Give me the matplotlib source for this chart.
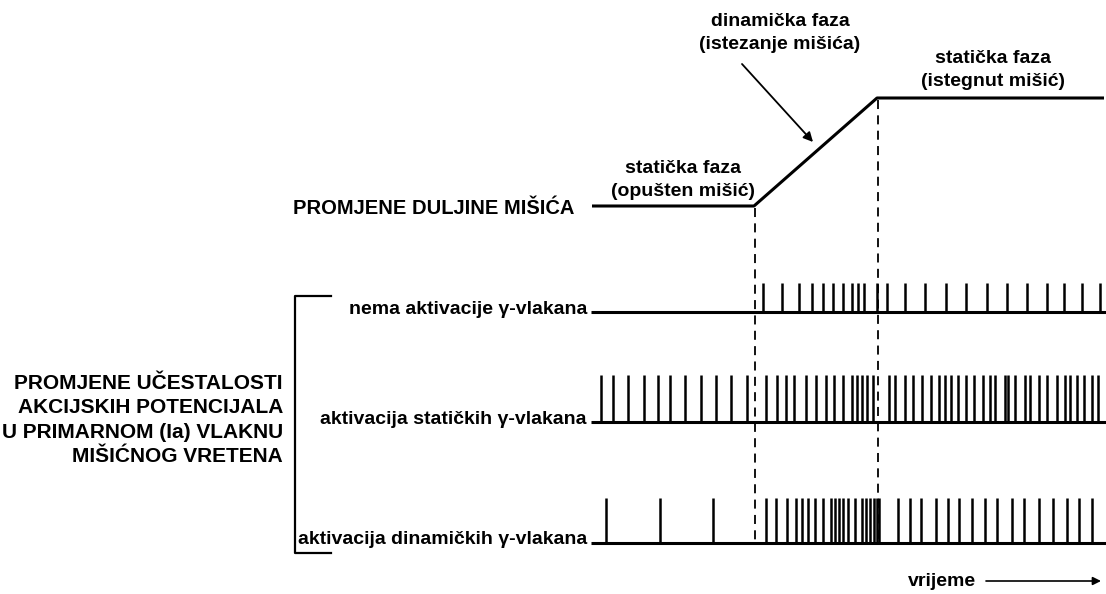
import matplotlib.pyplot as plt

plt.rcParams['font.family'] = ['Liberation Sans', 'DejaVu Sans']

# Duljina misica (vrijeme, razina)
duljina_t = [592, 754, 877, 1104]
duljina_y = [206, 206, 98, 98]
pocetak_istezanja = 755
kraj_istezanja = 878

# Trenuci akcijskih potencijala
bez_gama = [763, 782, 799, 812, 823, 833, 843, 852, 858, 864, 877, 887,
            905, 925, 946, 966, 987, 1007, 1027, 1047, 1064, 1082, 1100]
staticki_gama = [601, 613, 628, 644, 658, 670, 685, 701, 716, 731, 747,
                 766, 777, 786, 794, 806, 816, 826, 834, 843, 852, 857, 862,
                 867, 873, 889, 895, 905, 913, 922, 931, 939, 945, 951, 958,
                 966, 974, 983, 990, 995, 1005, 1008, 1015, 1025, 1030, 1039,
                 1047, 1057, 1065, 1070, 1077, 1084, 1092, 1098]
dinamicki_gama = [606, 660, 713, 766, 776, 787, 796, 802, 808, 815, 823,
                  831, 835, 839, 843, 848, 855, 862, 866, 870, 874, 877, 879,
                  898, 910, 921, 936, 948, 959, 972, 985, 997, 1012, 1024,
                  1039, 1053, 1067, 1079, 1092]

oznake_redova = ["nema aktivacije γ-vlakana",
                 "aktivacija statičkih γ-vlakana",
                 "aktivacija dinamičkih γ-vlakana"]
nizovi = [bez_gama, staticki_gama, dinamicki_gama]
osnovice = [312, 422, 543]
vrhovi = [283, 375, 498]

fig = plt.figure(figsize=(11.06, 5.94), dpi=100)
ax = fig.add_axes([0, 0, 1, 1])
ax.set_xlim(0, 1106)
ax.set_ylim(594, 0)
ax.axis('off')

fs = 14
kw = dict(fontsize=fs, fontweight='bold', color='black')

# Promjena duljine misica
ax.plot(duljina_t, duljina_y, color='black', lw=2.2, solid_capstyle='butt')
ax.text(574, 208, "PROMJENE DULJINE MIŠIĆA", ha='right', va='center',
        fontsize=14.5, fontweight='bold')
ax.text(683, 180, "statička faza\n(opušten mišić)", ha='center', va='center',
        linespacing=1.4, **kw)
ax.text(780, 33, "dinamička faza\n(istezanje mišića)", ha='center', va='center',
        linespacing=1.4, **kw)
ax.text(993, 70, "statička faza\n(istegnut mišić)", ha='center', va='center',
        linespacing=1.4, **kw)
ax.annotate("", xy=(813, 142), xytext=(742, 64),
            arrowprops=dict(arrowstyle='-|>', color='black', lw=1.3,
                            mutation_scale=14, shrinkA=0, shrinkB=0))

# Isprekidane linije
ax.plot([pocetak_istezanja] * 2, [208, 545], color='black', lw=1.3,
        ls=(0, (5, 3.5)))
ax.plot([kraj_istezanja] * 2, [100, 545], color='black', lw=1.3,
        ls=(0, (5, 3.5)))

# Nizovi akcijskih potencijala
for oznaka, niz, y0, y1 in zip(oznake_redova, nizovi, osnovice, vrhovi):
    ax.plot([591, 1106], [y0, y0], color='black', lw=2.2,
            solid_capstyle='butt')
    ax.vlines(niz, y1, y0, color='black', lw=1.8)
    ax.text(587, y0 - 3, oznaka, ha='right', va='center', **kw)

# Uglata zagrada
ax.plot([331, 295, 295, 331], [296, 296, 553, 553], color='black', lw=1.6)
ax.text(283, 420, "PROMJENE UČESTALOSTI\nAKCIJSKIH POTENCIJALA\n"
        "U PRIMARNOM (Ia) VLAKNU\nMIŠIĆNOG VRETENA",
        ha='right', va='center', linespacing=1.35,
        fontsize=15, fontweight='bold')

# Vrijeme
ax.text(908, 581, "vrijeme", ha='left', va='center', **kw)
ax.annotate("", xy=(1101, 581), xytext=(986, 581),
            arrowprops=dict(arrowstyle='-|>', color='black', lw=1.2,
                            mutation_scale=12, shrinkA=0, shrinkB=0))

fig.savefig("out.png", dpi=100, facecolor='white')
